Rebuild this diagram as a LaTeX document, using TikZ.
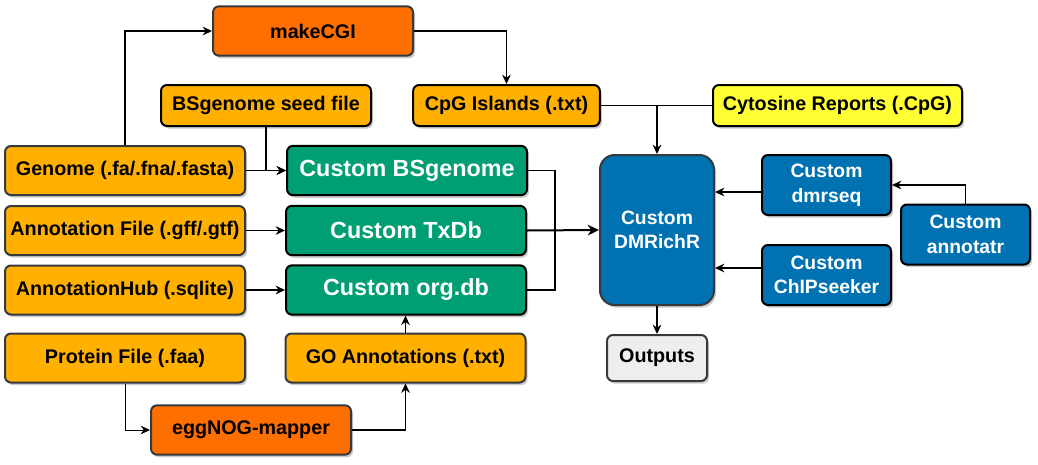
\documentclass[tikz,border=0pt]{standalone}
\usepackage{fontspec}
\setmainfont{Liberation Sans}
\usetikzlibrary{arrows.meta}
\usetikzlibrary{shadows}
\usetikzlibrary{calc}

\definecolor{amber}{HTML}{FFB000}
\definecolor{tangerine}{HTML}{FF6F00}
\definecolor{lemon}{HTML}{FFFF33}
\definecolor{pkggreen}{HTML}{009E73}
\definecolor{pkgblue}{HTML}{0072B2}
\definecolor{outgray}{HTML}{EEEEEE}
\definecolor{edgegray}{HTML}{36393D}

\begin{document}
\begin{tikzpicture}[x=0.75pt,y=-0.75pt]
\tikzstyle{box} = [rectangle,rounded corners=4.5pt,line width=1.5pt,font=\bfseries\fontsize{14.8}{17}\selectfont,
  align=center,inner sep=0pt,
  drop shadow={shadow xshift=1.5pt,shadow yshift=-2pt,opacity=0.2,fill=black}]
\tikzstyle{infile} = [box,fill=amber,draw=edgegray,minimum width=180pt,minimum height=36.75pt]
\tikzstyle{tool} = [box,fill=tangerine,draw=edgegray,minimum width=150pt,minimum height=37pt]
\tikzstyle{pkg} = [box,fill=pkggreen,draw=black,text=white,font=\bfseries\fontsize{17.5}{20}\selectfont,
  minimum width=180pt,minimum height=37pt]
\tikzstyle{rpkg} = [box,fill=pkgblue,draw=black,text=white,font=\bfseries\fontsize{14.5}{18.5}\selectfont,
  minimum width=96.75pt,minimum height=45pt]
\tikzstyle{flow} = [line width=1.1pt,-{Stealth[length=7pt,width=6.5pt]}]
\tikzstyle{link} = [line width=1.1pt]
\useasboundingbox (0,0) rectangle (1038,464);

% inputs
\node[tool] (makecgi) at (313,31) {makeCGI};
\node[infile,draw=black,minimum width=157.5pt,minimum height=30.75pt] (seed) at (266,105.5) {BSgenome seed file};
\node[infile,draw=black,minimum width=140pt,minimum height=30.75pt] (cpg) at (506.5,105.5) {CpG Islands (.txt)};
\node[infile,fill=lemon,draw=black,minimum width=186.75pt,minimum height=30.75pt] (cyto) at (837.5,105.5) {Cytosine Reports (.CpG)};
\node[infile] (genome) at (125,170.5) {Genome (.fa/.fna/.fasta)};
\node[infile] (annot) at (125,230.5) {Annotation File (.gff/.gtf)};
\node[infile] (hub) at (125,290) {AnnotationHub (.sqlite)};
\node[infile] (protein) at (125,358) {Protein File (.faa)};
\node[infile] (goann) at (405.5,358) {GO Annotations (.txt)};
\node[tool] (egg) at (251,430) {eggNOG-mapper};

% packages
\node[pkg] (bsgen) at (407,170.5) {Custom BSgenome};
\node[pkg] (txdb) at (406,230.5) {Custom TxDb};
\node[pkg] (orgdb) at (406,290) {Custom org.db};
\node[rpkg,draw=edgegray,rounded corners=11pt,minimum width=85.5pt,minimum height=112.5pt] (dmr) at (657,230) {Custom\\DMRichR};
\node[rpkg] (dmrseq) at (826.5,185) {Custom\\dmrseq};
\node[rpkg] (chip) at (826.5,275) {Custom\\ChIPseeker};
\node[rpkg] (annotatr) at (965.5,234.5) {Custom\\annotatr};
\node[box,fill=outgray,draw=edgegray,minimum width=75pt,minimum height=34.5pt] (outputs) at (657,358) {Outputs};

\coordinate (merge) at (555,230.5);
\coordinate (join) at (657,105.5);
\coordinate (upin) at ($(dmr.north east)!0.25!(dmr.south east)$);
\coordinate (lowin) at ($(dmr.north east)!0.75!(dmr.south east)$);

\draw[flow] (genome.north) |- (makecgi.west);
\draw[flow] (makecgi.east) -| (cpg.north);
\draw[flow] (seed.south) |- (bsgen.west);
\draw[flow] (genome) -- (bsgen);
\draw[flow] (annot) -- (txdb);
\draw[flow] (hub) -- (orgdb);
\draw[flow] (goann.north) -- (goann.north |- orgdb.south);
\draw[flow,line width=0.75pt] (protein.south) |- (egg.west);
\draw[flow] (egg.east) -| (goann.south);
\draw[link] (bsgen.east) -| (merge);
\draw[link] (orgdb.east) -| (merge);
\draw[flow,line width=1.5pt,-{Stealth[length=8.5pt,width=8pt]}] (txdb.east) -- (dmr.west);
\draw[link] (cpg.east) -- (cyto.west);
\draw[flow] (join) -- (dmr.north);
\draw[flow] (dmrseq.west |- upin) -- (upin);
\draw[flow] (chip.west |- lowin) -- (lowin);
\draw[flow] (annotatr.north) |- (dmrseq.east);
\draw[flow] (dmr) -- (outputs);
\end{tikzpicture}
\end{document}
